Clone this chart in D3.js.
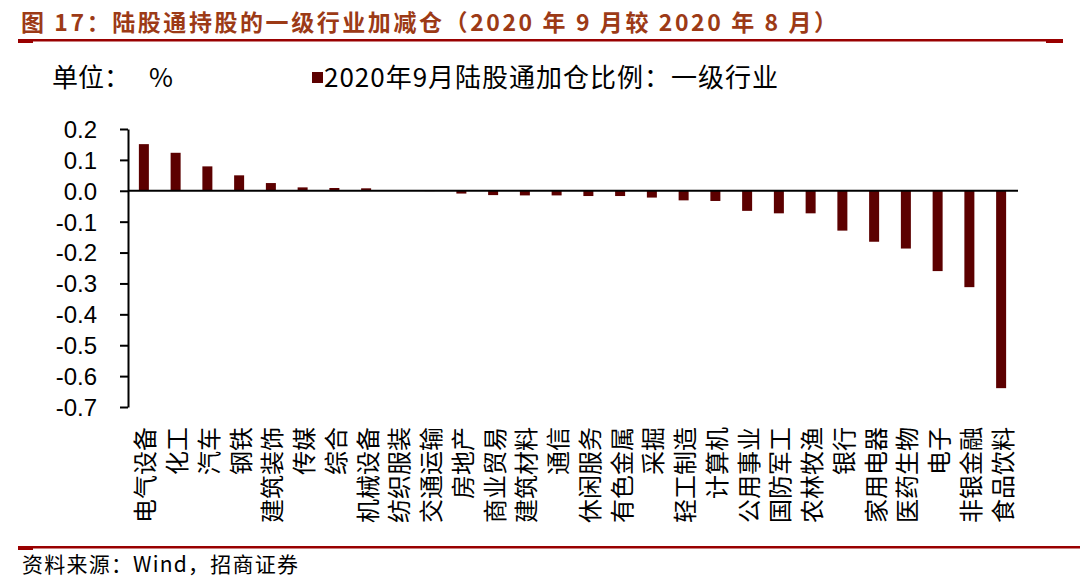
<!DOCTYPE html>
<html><head><meta charset="utf-8">
<script src="https://cdn.jsdelivr.net/npm/d3@7"></script>
<style>
body{margin:0;background:#fff;}
svg{display:block;}
</style></head>
<body>
<svg id="chart" width="1080" height="582"></svg>
<script>
const categories = ["电气设备","化工","汽车","钢铁","建筑装饰","传媒","综合","机械设备","纺织服装","交通运输","房地产","商业贸易","建筑材料","通信","休闲服务","有色金属","采掘","轻工制造","计算机","公用事业","国防军工","农林牧渔","银行","家用电器","医药生物","电子","非银金融","食品饮料"];
const values = [0.151,0.123,0.079,0.050,0.025,0.011,0.009,0.008,0.001,-0.001,-0.009,-0.014,-0.015,-0.015,-0.017,-0.017,-0.022,-0.031,-0.033,-0.065,-0.073,-0.073,-0.129,-0.165,-0.187,-0.260,-0.312,-0.639];
const yTicks = [0.2,0.1,0.0,-0.1,-0.2,-0.3,-0.4,-0.5,-0.6,-0.7];
const titleText = "图 17：陆股通持股的一级行业加减仓（2020 年 9 月较 2020 年 8 月）";
const legendText = "2020年9月陆股通加仓比例：一级行业";
const unitLabel = "单位：";
const unitSymbol = "%";
const sourceText = "资料来源：Wind，招商证券";

const svg = d3.select("#chart");
const cjk = "'Noto Sans CJK SC','Liberation Sans',Arial,sans-serif";
const num = "'Liberation Sans',Arial,sans-serif";

// title
svg.append("text").attr("x",21).attr("y",31)
  .attr("font-family",cjk).attr("font-weight","bold").attr("font-size",23)
  .attr("textLength",816).attr("lengthAdjust","spacing")
  .attr("fill","#9c3a16").text(titleText);
svg.append("rect").attr("x",18).attr("y",39).attr("width",1045).attr("height",2.5).attr("fill","#990000");
svg.append("rect").attr("x",18).attr("y",39).attr("width",15).attr("height",4).attr("fill","#990000");
svg.append("rect").attr("x",1046).attr("y",39).attr("width",17).attr("height",4).attr("fill","#990000");

// unit & legend
const ut = svg.append("text").attr("x",52).attr("y",87).attr("font-family",cjk).attr("font-size",26).attr("fill","#000");
ut.append("tspan").text(unitLabel);
ut.append("tspan").attr("x",149).text(unitSymbol);
svg.append("rect").attr("x",312).attr("y",72).attr("width",11).attr("height",11).attr("fill","#5c0000");
svg.append("text").attr("x",324).attr("y",87).attr("font-family",cjk).attr("font-size",26)
  .attr("textLength",454).attr("lengthAdjust","spacing").attr("fill","#000").text(legendText);

// scales
const x = d3.scaleBand().domain(categories).range([128,1017]).paddingInner(0.685).paddingOuter(0.3425);
const y = d3.scaleLinear().domain([-0.7,0.2]).range([407,129]);

// bars
svg.append("g").selectAll("rect").data(values).join("rect")
  .attr("x",(d,i)=>x(categories[i]))
  .attr("width",x.bandwidth())
  .attr("y",d=>y(Math.max(0,d)))
  .attr("height",d=>Math.abs(y(d)-y(0)))
  .attr("fill","#5c0000");

// y axis
const yAxis = d3.axisLeft(y).tickValues(yTicks).tickFormat(d3.format(".1f")).tickSize(8).tickSizeOuter(0);
const gy = svg.append("g").attr("transform","translate(128,0)").call(yAxis);
gy.select(".domain").attr("stroke","#000").attr("stroke-width",2);
gy.selectAll(".tick line").attr("stroke","#000").attr("stroke-width",2);
gy.selectAll(".tick text").attr("font-family",num).attr("font-size",24).attr("fill","#000").attr("x",-31).attr("dy","0.35em")
  .text(d=>d3.format(".1f")(d).replace("−","-"));

// zero line
svg.append("line").attr("x1",128).attr("x2",1018).attr("y1",y(0)).attr("y2",y(0)).attr("stroke","#000").attr("stroke-width",2);

// x labels
svg.append("g").selectAll("text").data(categories).join("text")
  .attr("transform",(d)=>`translate(${x(d)+x.bandwidth()/2+2},427) rotate(-90)`)
  .attr("text-anchor","end").attr("dy","0.35em")
  .attr("font-family",cjk).attr("font-size",24).attr("fill","#000")
  .text(d=>d);

// bottom rule & source
svg.append("rect").attr("x",18).attr("y",546).attr("width",1062).attr("height",2.5).attr("fill","#990000");
svg.append("rect").attr("x",18).attr("y",546).attr("width",15).attr("height",4).attr("fill","#990000");
svg.append("text").attr("x",22).attr("y",572).attr("font-family",cjk).attr("font-size",21)
  .attr("textLength",276).attr("lengthAdjust","spacing").attr("fill","#000").text(sourceText);
</script>
</body></html>
